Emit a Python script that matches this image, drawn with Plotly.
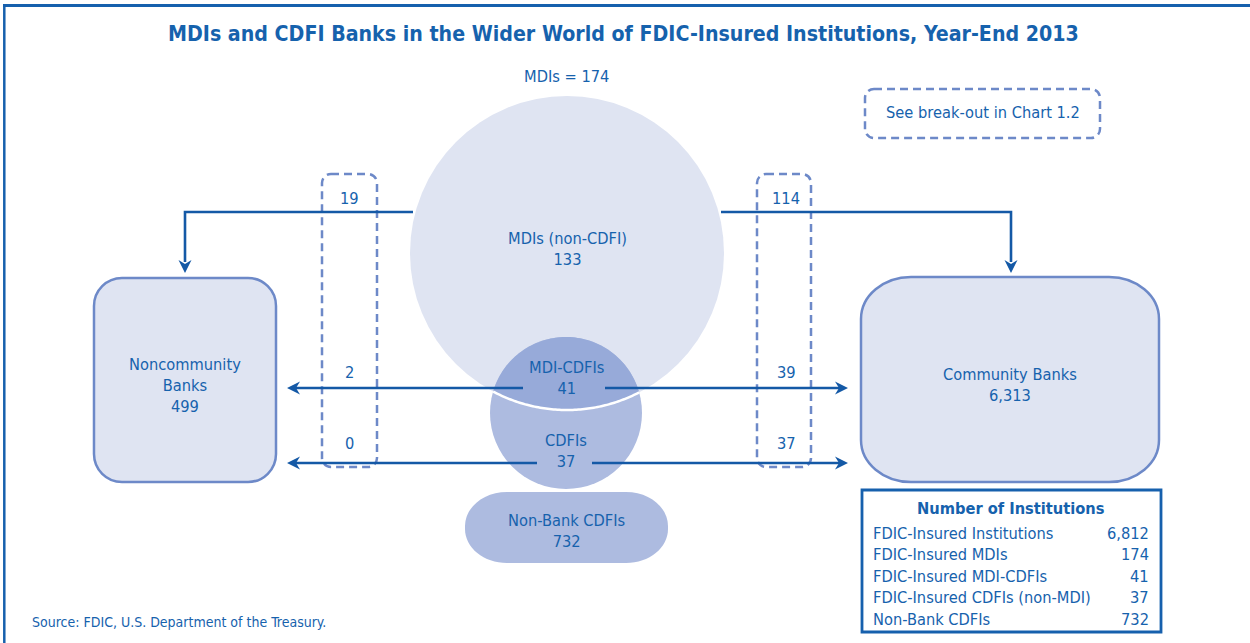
import numpy as np
import plotly.graph_objects as go

# ---------------- data ----------------
title_text = "MDIs and CDFI Banks in the Wider World of FDIC-Insured Institutions, Year-End 2013"
mdi_total = 174
mdi_non_cdfi = 133
mdi_cdfi = 41
cdfi_non_mdi = 37
nonbank_cdfi = 732
noncommunity_banks = 499
community_banks = 6313
flows_to_noncommunity = [19, 2, 0]      # MDI(non-CDFI), MDI-CDFI, CDFI
flows_to_community = [114, 39, 37]
table_labels = ["FDIC-Insured Institutions", "FDIC-Insured MDIs", "FDIC-Insured MDI-CDFIs",
                "FDIC-Insured CDFIs (non-MDI)", "Non-Bank CDFIs"]
table_values = [6812, 174, 41, 37, 732]
source_text = "Source: FDIC, U.S. Department of the Treasury."

# ---------------- style ----------------
W, H = 1250, 643
TXT = "#1662ad"
LINE = "#1459a6"
FRAME = "#1660ad"
LIGHT = "#dfe4f2"
MED = "#adbbe0"
DARK = "#97aad9"
DASHC = "#6d89c8"
FONT = "Liberation Sans Narrow, DejaVu Sans Condensed, Arial Narrow, sans-serif"
BS = 16.3  # body font size

fig = go.Figure()
shapes = []
ann = []


def fmt(v):
    return f"{v:,}"


def rrect(x0, y0, x1, y1, rx, ry=None):
    ry = rx if ry is None else ry
    k = 0.5523
    return (f"M {x0+rx},{y0} L {x1-rx},{y0} "
            f"C {x1-rx+k*rx},{y0} {x1},{y0+ry-k*ry} {x1},{y0+ry} "
            f"L {x1},{y1-ry} "
            f"C {x1},{y1-ry+k*ry} {x1-rx+k*rx},{y1} {x1-rx},{y1} "
            f"L {x0+rx},{y1} "
            f"C {x0+rx-k*rx},{y1} {x0},{y1-ry+k*ry} {x0},{y1-ry} "
            f"L {x0},{y0+ry} "
            f"C {x0},{y0+ry-k*ry} {x0+rx-k*rx},{y0} {x0+rx},{y0} Z")


def arrowhead(tx, ty, dx, dy, L=13, w=6.5, notch=9):
    px, py = -dy, dx
    bx, by = tx - dx * L, ty - dy * L
    nx, ny = tx - dx * notch, ty - dy * notch
    return (f"M {tx},{ty} L {bx+px*w},{by+py*w} L {nx},{ny} "
            f"L {bx-px*w},{by-py*w} Z")


def text(x, y, s, size=BS, bold=False, xanchor="center", color=TXT):
    if bold:
        s = f"<b>{s}</b>"
    ann.append(dict(x=x, y=y, xref="x", yref="y", text=s, showarrow=False,
                    xanchor=xanchor, yanchor="middle",
                    font=dict(family=FONT, size=size, color=color)))


# frame (top and left only)
shapes.append(dict(type="line", x0=3, y0=5.5, x1=W, y1=5.5, line=dict(color=FRAME, width=3)))
shapes.append(dict(type="line", x0=4.3, y0=4, x1=4.3, y1=H, line=dict(color=FRAME, width=2.5)))

# circles
c1x, c1y, r1 = 567.0, 253.0, 157.0
c2x, c2y, r2 = 566.0, 413.0, 76.0
shapes.append(dict(type="circle", x0=c1x - r1, y0=c1y - r1, x1=c1x + r1, y1=c1y + r1,
                   fillcolor=LIGHT, line=dict(width=0), layer="below"))
shapes.append(dict(type="circle", x0=c2x - r2, y0=c2y - r2, x1=c2x + r2, y1=c2y + r2,
                   fillcolor=MED, line=dict(width=0), layer="below"))

# lens (intersection)
dxc, dyc = c2x - c1x, c2y - c1y
d = np.hypot(dxc, dyc)
ux, uy = dxc / d, dyc / d
a = (r1**2 - r2**2 + d**2) / (2 * d)
h = np.sqrt(r1**2 - a**2)
pA = (c1x + a * ux - h * uy, c1y + a * uy + h * ux)
pB = (c1x + a * ux + h * uy, c1y + a * uy - h * ux)
angA1 = np.arctan2(pA[1] - c1y, pA[0] - c1x)
angB1 = np.arctan2(pB[1] - c1y, pB[0] - c1x)
t1 = np.linspace(min(angA1, angB1), max(angA1, angB1), 80)
big_arc = np.c_[c1x + r1 * np.cos(t1), c1y + r1 * np.sin(t1)]
angA2 = np.arctan2(pA[1] - c2y, pA[0] - c2x)
angB2 = np.arctan2(pB[1] - c2y, pB[0] - c2x)
s0, s1 = sorted([angA2, angB2])
if not (s0 < -np.pi / 2 < s1):
    s1 = s1 - 2 * np.pi
t2 = np.linspace(s0, s1, 80)
small_arc = np.c_[c2x + r2 * np.cos(t2), c2y + r2 * np.sin(t2)]


def ordered(arr, start):
    if np.hypot(*(arr[0] - start)) > np.hypot(*(arr[-1] - start)):
        return arr[::-1]
    return arr


ba = ordered(big_arc, np.array(pA))
sa = ordered(small_arc, np.array(pB))
pts = np.vstack([ba, sa])
lens = "M " + " L ".join(f"{x:.2f},{y:.2f}" for x, y in pts) + " Z"
shapes.append(dict(type="path", path=lens, fillcolor=DARK, line=dict(width=0), layer="below"))
white_arc = "M " + " L ".join(f"{x:.2f},{y:.2f}" for x, y in ba)
shapes.append(dict(type="path", path=white_arc, line=dict(color="white", width=2.5), layer="below"))

# side boxes
shapes.append(dict(type="path", path=rrect(94, 278, 276, 482, 28, 28), fillcolor=LIGHT,
                   line=dict(color=DASHC, width=2.5), layer="below"))
shapes.append(dict(type="path", path=rrect(861, 277, 1159, 482, 50, 42), fillcolor=LIGHT,
                   line=dict(color=DASHC, width=2.5), layer="below"))
# non-bank box
shapes.append(dict(type="path", path=rrect(465, 492, 668, 563, 42, 34), fillcolor=MED,
                   line=dict(width=0), layer="below"))

# dashed boxes
for (x0, y0, x1, y1) in [(322, 174, 377, 467), (757, 174, 811, 467), (865, 89, 1100, 138)]:
    shapes.append(dict(type="path", path=rrect(x0, y0, x1, y1, 9, 9),
                       line=dict(color=DASHC, width=2.5, dash="8px,5px")))

# arrows / flow lines
lw = 2.6
shapes.append(dict(type="path", path="M 413,212 L 185,212 L 185,262",
                   line=dict(color=LINE, width=lw)))
shapes.append(dict(type="path", path=arrowhead(185, 273, 0, 1), fillcolor=LINE, line=dict(width=0)))
shapes.append(dict(type="path", path="M 721,212 L 1011,212 L 1011,262",
                   line=dict(color=LINE, width=lw)))
shapes.append(dict(type="path", path=arrowhead(1011, 273, 0, 1), fillcolor=LINE, line=dict(width=0)))
for (ya, xl, xr) in [(388, 523, 605), (463, 537, 592)]:
    shapes.append(dict(type="line", x0=296, y0=ya, x1=xl, y1=ya, line=dict(color=LINE, width=lw)))
    shapes.append(dict(type="path", path=arrowhead(287, ya, -1, 0), fillcolor=LINE, line=dict(width=0)))
    shapes.append(dict(type="line", x0=xr, y0=ya, x1=839, y1=ya, line=dict(color=LINE, width=lw)))
    shapes.append(dict(type="path", path=arrowhead(848, ya, 1, 0), fillcolor=LINE, line=dict(width=0)))

# table box
shapes.append(dict(type="rect", x0=862, y0=490, x1=1161, y1=632,
                   line=dict(color=FRAME, width=2.8), fillcolor="white"))

# ---------------- texts ----------------
text(623, 33, title_text, size=21.2, bold=True)
text(566, 76, f"MDIs = {mdi_total}")
text(983, 112, "See break-out in Chart 1.2")
text(567, 249, f"MDIs (non-CDFI)<br>{mdi_non_cdfi}")
text(566, 378, f"MDI-CDFIs<br>{mdi_cdfi}")
text(566, 451, f"CDFIs<br>{cdfi_non_mdi}")
text(566, 531, f"Non-Bank CDFIs<br>{nonbank_cdfi}")
text(185, 385, f"Noncommunity<br>Banks<br>{noncommunity_banks}")
text(1010, 385, f"Community Banks<br>{fmt(community_banks)}")
for yv, v in zip([198, 372, 443], flows_to_noncommunity):
    text(349, yv, str(v))
for yv, v in zip([198, 372, 443], flows_to_community):
    text(786, yv, str(v))

text(1011, 508, "Number of Institutions", bold=True)
for i, (lab, v) in enumerate(zip(table_labels, table_values)):
    yv = 533 + i * 21.5
    text(871, yv, lab, xanchor="left")
    text(1151, yv, fmt(v), xanchor="right")

text(30, 622, source_text, size=14, xanchor="left")

fig.update_layout(
    width=W, height=H,
    margin=dict(l=0, r=0, t=0, b=0),
    paper_bgcolor="white", plot_bgcolor="white",
    xaxis=dict(range=[0, W], visible=False, fixedrange=True, showline=False, zeroline=False),
    yaxis=dict(range=[H, 0], visible=False, fixedrange=True, showline=False, zeroline=False),
    shapes=shapes, annotations=ann, showlegend=False,
)
fig.write_html(
    "out.html",
    config={"displayModeBar": False},
    post_script=("document.documentElement.style.margin='0';document.body.style.margin='0';"
                 "document.body.style.padding='0';document.documentElement.style.overflow='hidden';"
                 "document.body.style.overflow='hidden';"),
)
